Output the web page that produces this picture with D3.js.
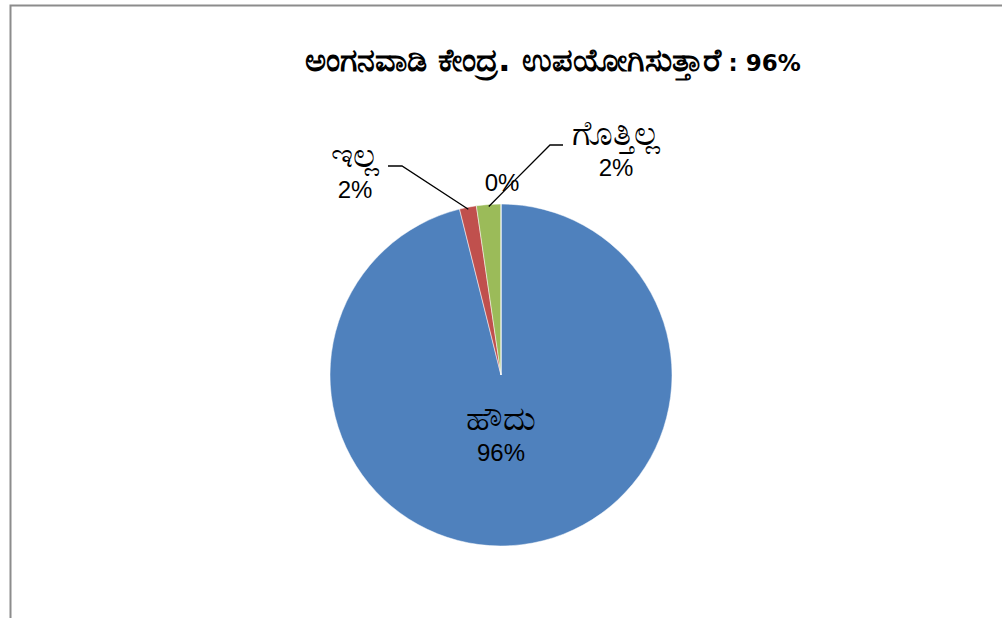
<!DOCTYPE html>
<html>
<head>
<meta charset="utf-8">
<script src="https://cdn.jsdelivr.net/npm/d3@7"></script>
<style>
  body { margin: 0; background: #fff; }
  svg { display: block; }
</style>
</head>
<body>
<div id="chart"></div>
<script>
// chart data
var categories = ['ಹೌದು', 'ಇಲ್ಲ', 'ಗೊತ್ತಿಲ್ಲ', ''];
var values = [96.1, 1.6, 2.3, 0];
var percentLabels = ['96%', '2%', '2%', '0%'];
var colors = ['#4f81bd', '#c0504d', '#9bbb59', '#8064a2'];
var titleText = 'ಅಂಗನವಾಡಿ ಕೇಂದ್ರ. ಉಪಯೋಗಿಸುತ್ತಾರೆ';
var titleValue = ' : 96%';

var width = 1002, height = 618;
var cx = 501, cy = 375, radius = 171;

var svg = d3.select('#chart').append('svg')
    .attr('width', width)
    .attr('height', height);

// chart area border (runs off the right / bottom)
svg.append('rect')
    .attr('x', 10.5).attr('y', 5.5)
    .attr('width', 1010).attr('height', 640)
    .attr('fill', '#fff')
    .attr('stroke', '#8c8c8c')
    .attr('stroke-width', 2);

var title = svg.append('text')
    .attr('x', 553).attr('y', 71)
    .attr('text-anchor', 'middle')
    .attr('font-family', '"DejaVu Sans", Arial, sans-serif')
    .attr('font-weight', 'bold')
    .attr('fill', '#000');
title.append('tspan').attr('font-size', 32).text(titleText);
title.append('tspan').attr('font-size', 23).text(titleValue);

var pie = d3.pie().sort(null).value(function (d) { return d; });
var arcs = pie(values);

var arc = d3.arc().innerRadius(0).outerRadius(radius);
var edge = d3.arc().innerRadius(radius - 2).outerRadius(radius - 2);

var g = svg.append('g').attr('transform', 'translate(' + cx + ',' + cy + ')');

g.selectAll('path.slice')
    .data(arcs)
    .enter().append('path')
    .attr('class', 'slice')
    .attr('d', arc)
    .attr('fill', function (d, i) { return colors[i]; })
    .attr('stroke', '#fff')
    .attr('stroke-width', 0.5);

// label placement (relative to pie centre), Excel-style best fit; y = baseline of the % line
var labelPos = [
    {x: 0, y: 86, leader: null},
    {x: -146, y: -177, leader: {x1: -113, y: -209, x2: -99}},
    {x: 115, y: -199, leader: {x1: 62, y: -230, x2: 49}},
    {x: 1, y: -184, leader: null}
];

var fontFamily = 'Arial, "Liberation Sans", "Noto Sans", sans-serif';

arcs.forEach(function (d, i) {
    var p = labelPos[i];
    if (p.leader) {
        var end = edge.centroid(d);
        g.append('polyline')
            .attr('points', [[p.leader.x1, p.leader.y], [p.leader.x2, p.leader.y], end].map(function (q) { return q.join(','); }).join(' '))
            .attr('fill', 'none')
            .attr('stroke', '#000')
            .attr('stroke-width', 1.3);
    }
    var t = g.append('text')
        .attr('text-anchor', 'middle')
        .attr('font-family', fontFamily)
        .attr('fill', '#000');
    if (categories[i]) {
        t.append('tspan').attr('x', p.x).attr('y', p.y - 31)
            .attr('font-size', 34).text(categories[i]);
    }
    t.append('tspan').attr('x', p.x).attr('y', p.y)
        .attr('font-size', 24).text(percentLabels[i]);
});
</script>
</body>
</html>
